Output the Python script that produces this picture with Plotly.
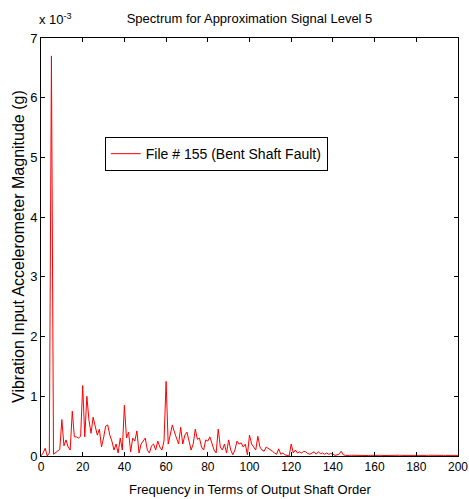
import plotly.graph_objects as go

# Shaft order (x) and magnitude in units of 1e-3 g
order = list(range(0, 201))
magnitude_e3 = [
    0.0, 0.05, 0.13, 0.0, 0.05, 6.7, 0.03, 0.06, 0.08, 0.11,
    0.61, 0.17, 0.27, 0.15, 0.10, 0.75, 0.32, 0.32, 0.30, 0.33,
    1.18, 0.32, 1.0, 0.6, 0.38, 0.65, 0.5, 0.35, 0.45, 0.15,
    0.3, 0.5, 0.52, 0.35, 0.25, 0.1, 0.2, 0.05, 0.3, 0.1,
    0.85, 0.3, 0.4, 0.07, 0.3, 0.25, 0.42, 0.05, 0.2, 0.25,
    0.3, 0.1, 0.05, 0.17, 0.2, 0.1, 0.25, 0.15, 0.1, 0.25,
    1.25, 0.2, 0.35, 0.52, 0.4, 0.3, 0.2, 0.48, 0.2, 0.35,
    0.4, 0.25, 0.1, 0.2, 0.45, 0.28, 0.3, 0.15, 0.1, 0.27,
    0.25, 0.32, 0.2, 0.1, 0.05, 0.45, 0.15, 0.1, 0.2, 0.05,
    0.27, 0.1, 0.02, 0.1, 0.25, 0.2, 0.22, 0.15, 0.2, 0.02,
    0.35, 0.2, 0.15, 0.1, 0.33, 0.15, 0.1, 0.08, 0.15, 0.13,
    0.1, 0.08, 0.05, 0.03, 0.12, 0.03, 0.05, 0.02, 0.01, 0.0,
    0.2, 0.05, 0.1, 0.05, 0.07, 0.05, 0.08, 0.07, 0.04, 0.03,
    0.05, 0.07, 0.03, 0.07, 0.04, 0.05, 0.03, 0.05, 0.03, 0.04,
    0.03, 0.01, 0.02, 0.03, 0.08, 0.02, 0.01, 0.015, 0.01, 0.012,
    0.01, 0.008, 0.012, 0.01, 0.009, 0.011, 0.01, 0.008, 0.01, 0.012,
    0.01, 0.009, 0.01, 0.011, 0.008, 0.01, 0.01, 0.009, 0.011, 0.01,
    0.008, 0.01, 0.012, 0.01, 0.009, 0.01, 0.011, 0.01, 0.008, 0.01,
    0.01, 0.009, 0.011, 0.01, 0.008, 0.01, 0.012, 0.01, 0.009, 0.01,
    0.011, 0.01, 0.008, 0.01, 0.01, 0.009, 0.011, 0.01, 0.008, 0.01,
    0.01,
]
x_ticks = [0, 20, 40, 60, 80, 100, 120, 140, 160, 180, 200]
y_ticks = [0, 1, 2, 3, 4, 5, 6, 7]

series_name = "File # 155 (Bent Shaft Fault)"
title_text = "Spectrum for Approximation Signal Level 5"
x_title = "Frequency in Terms of Output Shaft Order"
y_title = "Vibration Input Accelerometer Magnitude (g)"

FONT = "Liberation Sans, Arial, Helvetica, sans-serif"

fig = go.Figure()
fig.add_trace(go.Scatter(
    x=order, y=magnitude_e3, mode="lines", name=series_name,
    line=dict(color="#ff0000", width=1),
))

axis_common = dict(
    showline=True, linecolor="black", linewidth=1, mirror="ticks",
    ticks="inside", ticklen=4, tickcolor="black", showgrid=False,
    zeroline=False, automargin=False, ticklabeloverflow="allow",
)

fig.update_layout(
    width=469, height=499,
    margin=dict(l=41, r=11, t=38, b=43),
    paper_bgcolor="white", plot_bgcolor="white",
    font=dict(family=FONT, size=12, color="black"),
    title=dict(text=title_text, x=0.532, xanchor="center", y=0.964,
               yanchor="middle", font=dict(family=FONT, size=13)),
    xaxis=dict(range=[0, 200], tickvals=x_ticks,
               tickfont=dict(family=FONT, size=12, color="black"),
               **axis_common),
    yaxis=dict(range=[0, 7], tickvals=y_ticks,
               tickfont=dict(family=FONT, size=13, color="black"),
               **axis_common),
    showlegend=True,
    legend=dict(x=0.153, y=0.763, xanchor="left", yanchor="top",
                bgcolor="white", bordercolor="black", borderwidth=1,
                font=dict(family=FONT, size=14)),
    annotations=[
        dict(text="x 10<sup>-3</sup>", xref="paper", yref="paper",
             x=-0.01, y=1.0, xanchor="left", yanchor="bottom", yshift=9,
             showarrow=False, font=dict(family=FONT, size=13)),
        dict(text=x_title, xref="paper", yref="paper", x=0.5, y=0,
             xanchor="center", yanchor="middle", yshift=-33,
             showarrow=False, font=dict(family=FONT, size=13)),
        dict(text=y_title, xref="paper", yref="paper", x=0, y=0.5,
             xanchor="center", yanchor="middle", xshift=-23, textangle=-90,
             showarrow=False, font=dict(family=FONT, size=16)),
    ],
)

fig.write_html(
    "out.html",
    config={"displayModeBar": False},
    post_script=(
        "document.body.style.margin='0';"
        "document.documentElement.style.overflow='hidden';"
        "document.body.style.overflow='hidden';"
    ),
)
